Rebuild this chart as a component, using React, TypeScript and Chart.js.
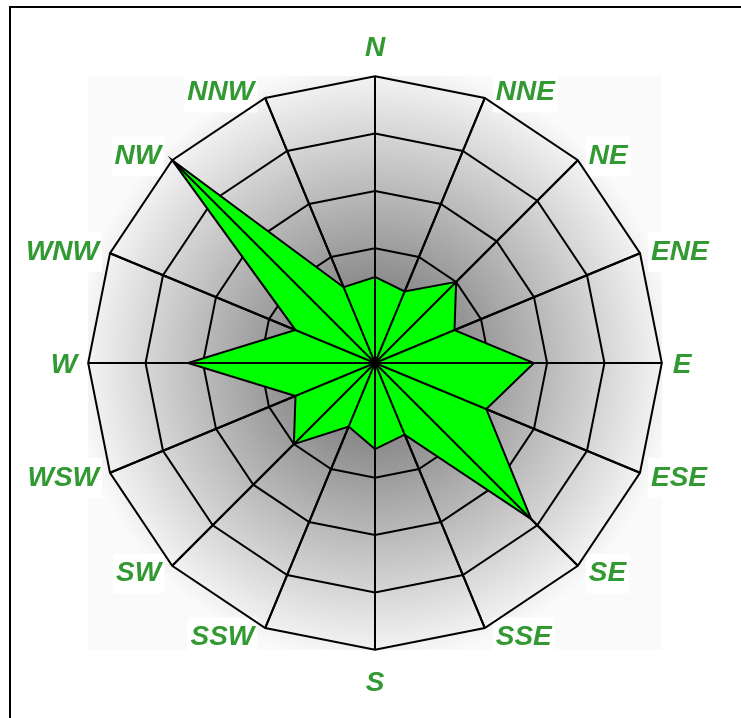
import React, { useEffect, useRef } from 'react';
import { Chart, registerables } from 'chart.js';

Chart.register(...registerables);

const directions = ['N', 'NNE', 'NE', 'ENE', 'E', 'ESE', 'SE', 'SSE', 'S', 'SSW', 'SW', 'WSW', 'W', 'WNW', 'NW', 'NNW'];
const frequencies = [1.5, 1.35, 2.0, 1.5, 2.77, 2.1, 3.85, 1.35, 1.5, 1.2, 2.0, 1.5, 3.26, 1.5, 5.0, 1.43];
const scaleMax = 5;
const scaleStep = 1;

const radialBackground = {
  id: 'radialBackground',
  beforeDraw(chart: any) {
    const s = chart.scales.r;
    if (!s) return;
    const ctx = chart.ctx;
    const r = s.drawingArea;
    const g = ctx.createRadialGradient(s.xCenter, s.yCenter, 0, s.xCenter, s.yCenter, r * 1.05);
    g.addColorStop(0, 'rgb(100,100,100)');
    g.addColorStop(1, 'rgb(250,250,250)');
    ctx.save();
    ctx.fillStyle = g;
    ctx.fillRect(s.xCenter - r, s.yCenter - r, 2 * r, 2 * r);
    ctx.restore();
  },
};

const spokesOnTop = {
  id: 'spokesOnTop',
  afterDatasetsDraw(chart: any) {
    const s = chart.scales.r;
    if (!s) return;
    const ctx = chart.ctx;
    ctx.save();
    ctx.strokeStyle = '#000';
    ctx.lineWidth = 2;
    for (let i = 0; i < directions.length; i++) {
      const p = s.getPointPosition(i, s.drawingArea);
      ctx.beginPath();
      ctx.moveTo(s.xCenter, s.yCenter);
      ctx.lineTo(p.x, p.y);
      ctx.stroke();
    }
    ctx.restore();
  },
};

// Re-anchor side labels: fixed horizontal gap from the outer vertex, vertically centred on it.
function placeLabels(scale: any) {
  const items = scale._pointLabelItems;
  if (!items) return;
  const n = items.length;
  const hGap = 11;
  const vOut = 8;
  const vShift = 2;
  const poleShift = 3;
  for (let i = 0; i < n; i++) {
    const it = items[i];
    const deg = (i * 360) / n;
    if (deg === 0 || deg === 180) {
      it.top += poleShift;
      it.bottom += poleShift;
      it.y += poleShift;
      continue;
    }
    const th = (deg * Math.PI) / 180;
    const v = scale.getPointPosition(i, scale.drawingArea);
    const w = it.right - it.left;
    const h = it.bottom - it.top;
    const cy = v.y - vOut * Math.cos(th) + vShift;
    if (Math.sin(th) > 0) {
      it.x = v.x + hGap;
      it.left = it.x;
      it.right = it.x + w;
      it.textAlign = 'left';
    } else {
      it.x = v.x - hGap;
      it.right = it.x;
      it.left = it.x - w;
      it.textAlign = 'right';
    }
    it.top = cy - h / 2;
    it.bottom = it.top + h;
    it.y = it.top;
  }
}

export default function App() {
  const ref = useRef<HTMLCanvasElement>(null);
  useEffect(() => {
    if (!ref.current) return;
    const chart = new Chart(ref.current, {
      type: 'radar',
      data: {
        labels: directions,
        datasets: [
          {
            data: frequencies,
            backgroundColor: '#00ff00',
            borderColor: '#000000',
            borderWidth: 2,
            pointRadius: 0,
            pointHoverRadius: 0,
            fill: true,
          },
        ],
      },
      options: {
        animation: false,
        responsive: true,
        maintainAspectRatio: false,
        devicePixelRatio: 1,
        layout: { padding: { top: 9, bottom: 9, left: 5, right: 21 } },
        plugins: { legend: { display: false }, tooltip: { enabled: false } },
        scales: {
          r: {
            min: 0,
            max: scaleMax,
            beginAtZero: true,
            ticks: { display: false, stepSize: scaleStep },
            grid: { color: '#000', lineWidth: 2, circular: false },
            angleLines: { color: '#000', lineWidth: 2 },
            pointLabels: {
              color: '#339933',
              font: { family: '"Liberation Sans", Arial, sans-serif', size: 28, weight: 'bold', style: 'italic' },
              padding: 14,
              backdropColor: '#ffffff',
              backdropPadding: 3,
            },
            afterFit: placeLabels,
          },
        },
      },
      plugins: [radialBackground, spokesOnTop],
    });
    return () => chart.destroy();
  }, []);

  return (
    <div
      style={{
        position: 'fixed',
        left: 9,
        top: 6,
        width: 740,
        height: 720,
        border: '2px solid #000',
        background: '#fff',
      }}
    >
      <div style={{ position: 'relative', width: 728, height: 712 }}>
        <canvas ref={ref} />
      </div>
    </div>
  );
}
